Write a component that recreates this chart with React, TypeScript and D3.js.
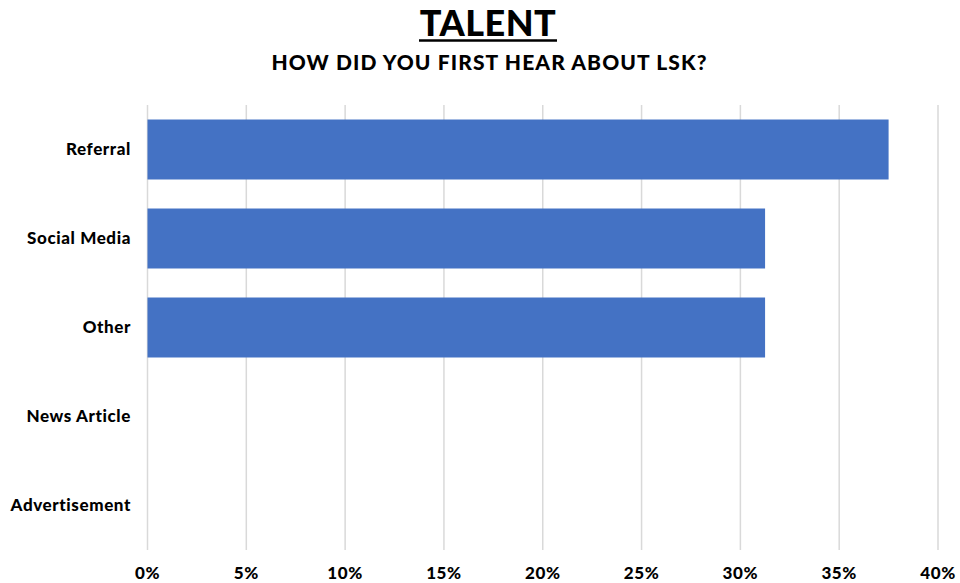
import React from "react";
import * as d3 from "d3";

const categories = ["Referral", "Social Media", "Other", "News Article", "Advertisement"];
const values = [37.5, 31.25, 31.25, 0, 0];
const ticks = [0, 5, 10, 15, 20, 25, 30, 35, 40];

const W = 960;
const H = 583;
const FONT = "Lato, 'Open Sans', sans-serif";

export default function App() {
  const x = d3.scaleLinear().domain([0, 40]).range([147.5, 938]);
  const y = d3
    .scaleBand<string>()
    .domain(categories)
    .range([105, 550])
    .paddingInner(0.326)
    .paddingOuter(0.163);

  return (
    <svg
      width={W}
      height={H}
      style={{ position: "absolute", left: 0, top: 0, background: "#fff" }}
      fontFamily={FONT}
    >
      <text x={488} y={36} textAnchor="middle" fontSize={36} fontWeight={900} fill="#000" letterSpacing={0.5}>
        TALENT
      </text>
      <line x1={419} x2={557} y1={40.5} y2={40.5} stroke="#000" strokeWidth={2.5} />
      <text x={489.5} y={70} textAnchor="middle" fontSize={21} fontWeight={900} fill="#000" letterSpacing={1.1}>
        HOW DID YOU FIRST HEAR ABOUT LSK?
      </text>

      {ticks.map((t) => (
        <g key={t}>
          <line x1={x(t)} x2={x(t)} y1={105} y2={550} stroke="#d9d9d9" strokeWidth={1.5} />
          <text
            x={x(t)}
            y={579}
            textAnchor="middle"
            fontSize={17}
            fontWeight={900}
            fill="#000"
            letterSpacing={0.6}
          >
            {t}%
          </text>
        </g>
      ))}

      {categories.map((c, i) => (
        <g key={c}>
          {values[i] > 0 && (
            <rect
              x={x(0)}
              y={y(c)!}
              width={x(values[i]) - x(0)}
              height={y.bandwidth()}
              fill="#4472C4"
            />
          )}
          <text
            x={131}
            y={y(c)! + y.bandwidth() / 2}
            dy="0.35em"
            textAnchor="end"
            fontSize={17}
            fontWeight={900}
            fill="#000"
            letterSpacing={0.6}
          >
            {c}
          </text>
        </g>
      ))}
    </svg>
  );
}
